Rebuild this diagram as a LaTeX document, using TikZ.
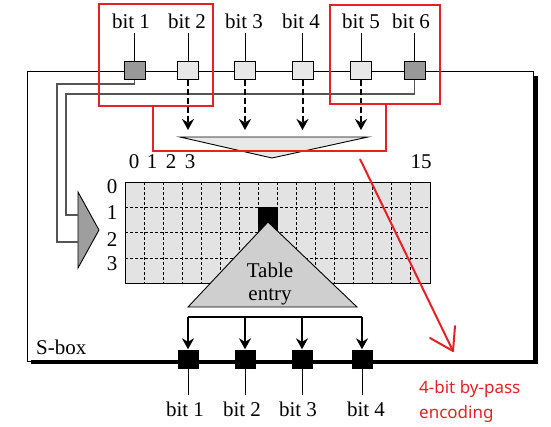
\documentclass[tikz,border=0pt]{standalone}
\usepackage{fontspec}
\setmainfont{Liberation Serif}
\newfontfamily\annfont{Noto Sans}
\usetikzlibrary{arrows.meta}
\definecolor{annred}{RGB}{232,32,38}
\definecolor{wiregray}{RGB}{85,85,85}
\begin{document}
\begin{tikzpicture}[x=1pt,y=-1pt,
  lbl/.style={font=\fontsize{21}{23}\selectfont, inner sep=0pt},
  inbox/.style={draw, line width=1pt, fill=black!9, minimum width=21pt, minimum height=18pt, inner sep=0pt},
  selbox/.style={inbox, fill=black!40},
  outbox/.style={fill=black, minimum width=21pt, minimum height=19pt, inner sep=0pt},
  wire/.style={draw=wiregray, line width=1.3pt},
  darr/.style={line width=2pt, dash pattern=on 6pt off 3pt, -{Stealth[length=11pt,width=12pt]}},
  oarr/.style={line width=1.5pt, -{Stealth[length=11pt,width=12pt]}},
  ann/.style={draw=annred, line width=2pt},
  anntxt/.style={text=annred, font=\annfont\fontsize{17}{18}\selectfont, inner sep=0pt, anchor=base west}]
\useasboundingbox (0,0) rectangle (551,426);

% S-box frame
\draw[line width=0.9pt] (27,71) rectangle (533,361);
\draw[line width=4pt] (31,362) -- (536,362) -- (536,76);
\node[lbl, anchor=base west] (sbox) at (36,354) {S-box};

% grid
\fill[black!11] (125,182) rectangle (430,283);
\foreach \y in {207,232,258} \draw[line width=1pt, dash pattern=on 3pt off 2pt] (125,\y) -- (430,\y);
\foreach \i in {1,...,15} \draw[line width=1pt, dash pattern=on 3pt off 2pt] ({125+\i*19.0625},182) -- ({125+\i*19.0625},283);
\fill (258.4,207) rectangle (277.5,232);
\draw[line width=0.9pt] (125,182) rectangle (430,283);

% column and row labels
\foreach \x/\t in {134/0,152/1,171/2,190/3,421/15} \node[lbl] (c\t) at (\x,162) {\t};
\foreach \y/\t in {187/0,213/1,240/2,264/3} \node[lbl] (r\t) at (112,\y) {\t};

% row selector
\coordinate (sa) at (78,192);
\coordinate (sb) at (99,230);
\coordinate (sc) at (78,268);
\coordinate (sel1) at (78,215);
\coordinate (sel2) at (78,242);
\draw[fill=black!38, line width=0.9pt] (sa) -- (sb) -- (sc) -- cycle;

% column decoder
\coordinate (da) at (180,137);
\coordinate (db) at (368,137);
\coordinate (dc) at (272,158);
\draw[fill=black!9, line width=0.9pt] (da) -- (db) -- (dc) -- cycle;
\foreach \x/\n in {188/2,245/3,302.5/4,361/5} \coordinate (d\n) at (\x,130);

% input boxes
\node[selbox] (in1) at (134.5,70) {};
\node[inbox] (in2) at (188,70) {};
\node[inbox] (in3) at (245,70) {};
\node[inbox] (in4) at (302.5,70) {};
\node[inbox] (in5) at (361,70) {};
\node[selbox] (in6) at (414.5,70) {};
\foreach \x/\n in {131/1,187/2,244/3,301/4,361/5,411/6} \node[lbl] (t\n) at (\x,21) {bit \n};
\foreach \n in {1,...,6} \draw[line width=0.9pt] (in\n.north |- 0,33) -- (in\n.north);

% wires to selector
\draw[wire] (in1.south) |- (57,84) |- (sel2);
\draw[wire] (in6.south) |- (66,94) |- (sel1);
% redraw boxes on top of wires
\node[selbox] at (in1) {};
\node[selbox] at (in6) {};

% dashed arrows to decoder
\foreach \n in {2,3,4,5} \draw[darr] (in\n.south) -- (d\n);

% table entry
\draw[fill=black!19, line width=0.9pt] (268,222) -- (357,307) -- (188,307) -- cycle;
\node[lbl, align=center, font=\fontsize{21}{23}\selectfont] (entry) at (270,284) {Table\\entry};

% outputs
\node[outbox] (out1) at (188,359) {};
\node[outbox] (out2) at (245,359) {};
\node[outbox] (out3) at (302,359) {};
\node[outbox] (out4) at (362,359) {};
\coordinate (bus1) at (188,317);
\coordinate (bus4) at (362,317);
\draw[line width=1.5pt] (bus1) -- (bus4);
\foreach \n in {1,...,4} \draw[oarr] (out\n.north |- bus1) -- (out\n.north);
\foreach \x/\n in {185/1,242/2,298/3,366/4} \node[lbl] (b\n) at (\x,409) {bit \n};
\foreach \n in {1,...,4} \draw[line width=0.9pt] (out\n.south) -- (out\n.south |- 0,395);

% red annotation
\draw[ann] (99,4) rectangle (213,106);
\draw[ann] (330,5) rectangle (440,104);
\draw[ann] (153,106) -- (153,151) -- (386,151) -- (386,104);
\coordinate (rs) at (360,159);
\coordinate (rt) at (453,351);
\draw[ann] (rs) -- (rt);
\draw[ann, line cap=round] (rt) -- ++(-23,-13);
\draw[ann, line cap=round] (rt) -- ++(2,-25);
\node[anntxt] (a1) at (419,393) {4-bit by-pass};
\node[anntxt] (a2) at (419,418) {encoding};
\end{tikzpicture}
\end{document}
